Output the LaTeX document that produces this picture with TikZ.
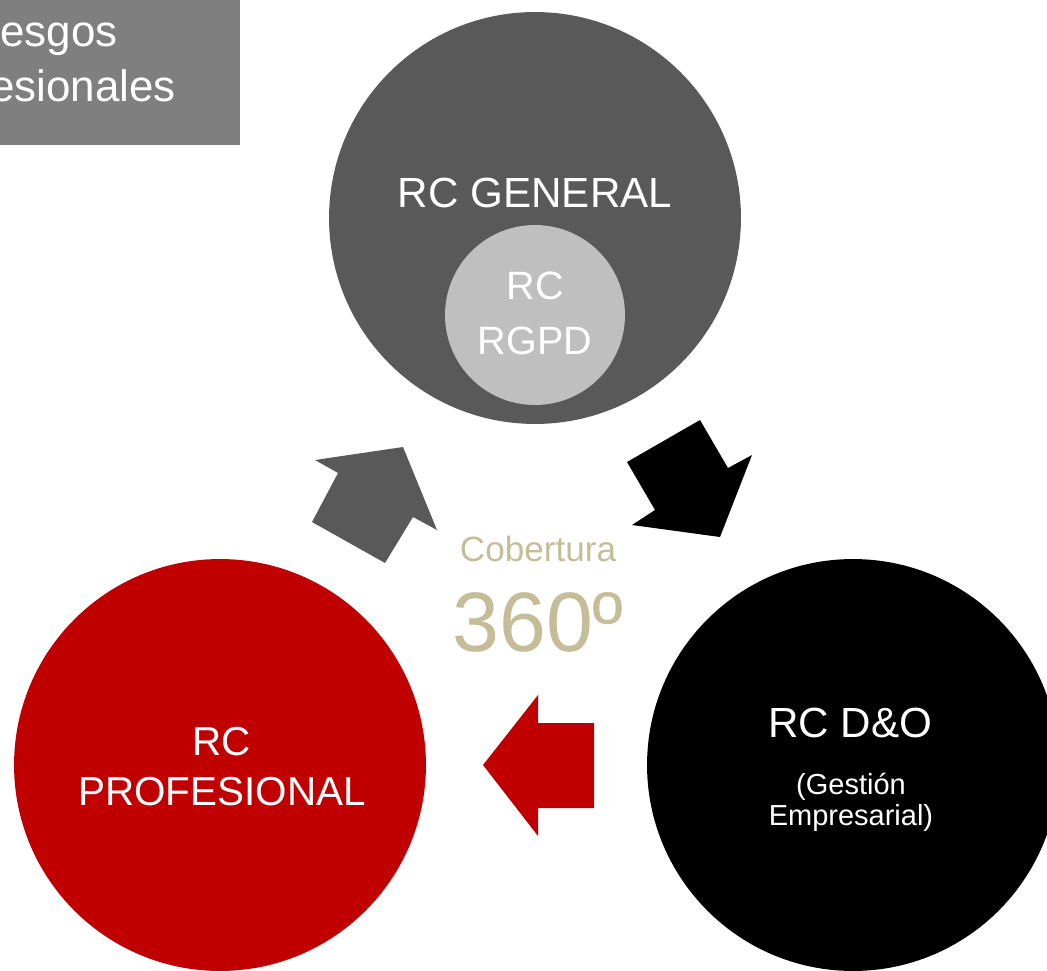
\documentclass[tikz,border=0pt]{standalone}
\usepackage{fontspec}
\setmainfont{Liberation Sans}
\definecolor{boxgray}{HTML}{7F7F7F}
\definecolor{gengray}{HTML}{595959}
\definecolor{rgpdgray}{HTML}{BFBFBF}
\definecolor{profred}{HTML}{C00000}
\definecolor{covertan}{HTML}{C4BD97}
\tikzset{bigdisc/.style={circle, minimum size=8.24cm, inner sep=0pt, outer sep=0pt}, txt/.style={text=white, anchor=base, inner sep=0pt}}

\begin{document}
\begin{tikzpicture}[x=0.02cm, y=-0.02cm]
	% field
	\useasboundingbox (0,0) rectangle (1047,970);
	\clip (0,0) rectangle (1047,970);
	
	% title box
	\fill [boxgray] (-10,-10) rectangle (240,145);
	\node [txt, anchor=base east, font=\fontsize{25}{30}\selectfont] (title1) at (118,46) {Riesgos};
	\node [txt, anchor=base east, font=\fontsize{25}{30}\selectfont] (title2) at (176,101) {Profesionales};
	
	% circles
	\node [bigdisc, fill=gengray] (gen) at (535,218) {};
	\node [circle, minimum size=3.6cm, inner sep=0pt, fill=rgpdgray] (rgpd) at (535,315) {};
	\node [bigdisc, fill=profred] (prof) at (220,765) {};
	\node [bigdisc, fill=black] (dyo) at (853,765) {};
	
	% circle texts
	\node [txt, font=\fontsize{24}{28}\selectfont] (gen1) at (535,207) {RC GENERAL};
	\node [txt, font=\fontsize{22.5}{26}\selectfont] (rgpd1) at (535,299) {RC};
	\node [txt, font=\fontsize{22.5}{26}\selectfont] (rgpd2) at (535,354) {RGPD};
	\node [txt, font=\fontsize{23}{28}\selectfont] (prof1) at (222,755) {RC};
	\node [txt, font=\fontsize{23}{28}\selectfont] (prof2) at (222,805) {PROFESIONAL};
	\node [txt, font=\fontsize{24}{28}\selectfont] (dyo1) at (850,737) {RC D\&O};
	\node [txt, font=\fontsize{16.5}{20}\selectfont] (dyo2) at (851,794) {(Gestión};
	\node [txt, font=\fontsize{16.5}{20}\selectfont] (dyo3) at (851,825) {Empresarial)};
	
	% arrows
	\fill [gengray] (403,447) -- (437,530) -- (413,517) -- (385,563) -- (312,522) -- (338,473) -- (315,460) -- cycle;
	\fill [black] (720,537) -- (632,525) -- (655,510) -- (627,462) -- (700,420) -- (728,468) -- (752,455) -- cycle;
	\fill [profred] (483,765) -- (538,695) -- (538,723) -- (594,723) -- (594,808) -- (538,808) -- (538,836) -- cycle;
	
	% centre
	\node [txt, text=covertan, font=\fontsize{20}{24}\selectfont] (cob) at (538,561) {Cobertura};
	\node [txt, text=covertan, font=\fontsize{48}{52}\selectfont] (deg) at (538,651) {360º};
\end{tikzpicture}
\end{document}
